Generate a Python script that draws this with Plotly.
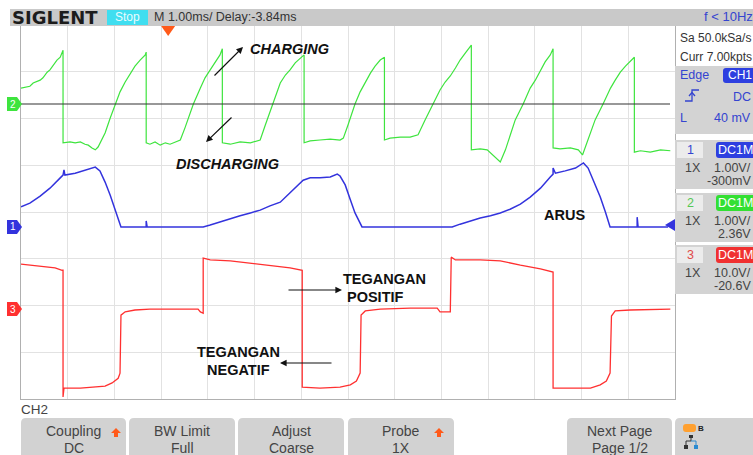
import plotly.graph_objects as go

W, H = 753, 455

# ---------------- data (time in ms, voltages in V) ----------------
time_range = [-3.15, 10.85]          # 1.00 ms/div, delay -3.84 ms
ch1_range = [-3.68, 4.32]            # 1.00 V/div
ch2_range = [-6.31, 1.69]            # 1.00 V/div
ch3_range = [-19.24, 60.76]          # 10.0 V/div

# CH2 (green) capacitor voltage
ch2_t = [-3.15, -3.06, -2.96, -2.89, -2.74, -2.68, -2.59, -2.53, -2.42, -2.38, -2.31, -2.27, -2.25,
         -2.25, -2.10, -1.99, -1.88, -1.78, -1.71, -1.63, -1.56, -1.50, -1.46, -1.35, -1.24, -1.13, -1.03, -0.92, -0.81, -0.71, -0.60, -0.49, -0.47,
         -0.47, -0.39, -0.28, -0.17, -0.06, 0.04, 0.15, 0.26, 0.36, 0.47, 0.54, 0.69, 0.79, 0.90, 1.01, 1.11, 1.16,
         1.16, 1.33, 1.54, 1.76, 1.97, 2.08, 2.18, 2.25, 2.40, 2.51, 2.61, 2.72, 2.83, 2.91,
         2.91, 3.04, 3.25, 3.47, 3.68, 3.75, 3.85, 4.00, 4.11, 4.22, 4.33, 4.43, 4.54, 4.63,
         4.63, 4.75, 4.97, 5.18, 5.35, 5.50, 5.67, 5.82, 5.93, 6.04, 6.15, 6.25, 6.36, 6.49,
         6.49, 6.68, 6.83, 6.94, 7.11, 7.22, 7.32, 7.43, 7.60, 7.75, 7.86, 7.97, 8.07, 8.18, 8.24,
         8.24, 8.39, 8.61, 8.78, 8.87, 8.95, 9.04, 9.14, 9.31, 9.47, 9.57, 9.68, 9.79, 9.89, 9.98,
         9.98, 10.11, 10.32, 10.54, 10.75]
ch2_v = [0.34, 0.36, 0.38, 0.45, 0.51, 0.56, 0.68, 0.73, 0.88, 0.94, 1.00, 1.11, 1.15,
         -0.83, -0.81, -0.83, -0.81, -0.86, -0.88, -0.94, -0.98, -0.92, -0.83, -0.62, -0.30, 0.00, 0.26, 0.47, 0.66, 0.81, 0.94, 1.05, 1.11,
         -0.83, -0.86, -0.81, -0.88, -0.83, -0.86, -0.81, -0.77, -0.51, -0.17, 0.00, 0.34, 0.56, 0.73, 0.90, 1.05, 1.18,
         -0.83, -0.86, -0.81, -0.83, -0.77, -0.45, -0.17, 0.00, 0.45, 0.62, 0.73, 0.88, 0.98, 1.05,
         -0.83, -0.79, -0.77, -0.75, -0.77, -0.73, -0.45, 0.00, 0.26, 0.47, 0.66, 0.81, 0.94, 1.00,
         -0.77, -0.73, -0.71, -0.71, -0.66, -0.34, 0.00, 0.30, 0.47, 0.60, 0.77, 0.94, 1.09, 1.26,
         -0.98, -0.96, -0.98, -1.09, -1.24, -0.98, -0.66, -0.34, 0.00, 0.34, 0.51, 0.73, 0.90, 1.05, 1.18,
         -0.94, -0.96, -0.94, -0.98, -1.09, -0.88, -0.62, -0.34, 0.00, 0.34, 0.51, 0.68, 0.81, 0.90, 1.00,
         -1.03, -1.00, -1.03, -0.98, -1.00]

# CH1 (blue) current
ch1_t = [-3.15, -2.96, -2.74, -2.53, -2.31, -2.25, -2.23, -2.21, -1.99, -1.78, -1.56, -1.46, -1.35, -1.24, -1.13, -1.01,
         -0.47, -0.47, -0.45, 0.75, 0.90, 1.11, 1.33, 1.54, 1.76, 1.97, 2.18, 2.40, 2.61, 2.83, 2.89, 3.04, 3.25, 3.47, 3.62, 3.68, 3.79, 3.90, 4.00, 4.15,
         6.08, 6.25, 6.47, 6.68, 6.90, 7.11, 7.32, 7.54, 7.75, 7.97, 8.18, 8.24, 8.24, 8.29, 8.50, 8.72, 8.89, 8.99, 9.10, 9.25, 9.36, 9.46,
         10.04, 10.04, 10.06, 10.70]
ch1_v = [0.43, 0.51, 0.66, 0.83, 1.05, 1.11, 1.22, 1.11, 1.15, 1.22, 1.28, 1.20, 0.96, 0.68, 0.36, 0.00,
         0.00, 0.13, 0.00, 0.00, 0.04, 0.11, 0.17, 0.24, 0.30, 0.36, 0.45, 0.53, 0.73, 0.94, 1.00, 1.05, 1.05, 1.07, 1.13, 1.09, 0.90, 0.58, 0.30, 0.00,
         0.00, 0.06, 0.13, 0.19, 0.24, 0.30, 0.38, 0.49, 0.64, 0.83, 1.07, 1.13, 1.26, 1.15, 1.20, 1.26, 1.37, 1.26, 1.00, 0.64, 0.32, 0.00,
         0.00, 0.21, 0.00, 0.00]

# CH3 (red) inverter output voltage
ch3_t = [-3.15, -2.74, -2.42, -2.27, -2.25, -2.25, -2.23, -1.88, -1.56, -1.35, -1.20, -1.07, -1.03, -1.01, -0.92, -0.71, -0.39, 0.04, 0.64, 0.69, 0.75,
         0.75, 0.90, 1.33, 1.76, 2.18, 2.61, 2.87, 2.87, 3.25, 3.68, 3.90, 4.03, 4.11, 4.13, 4.22, 4.54, 5.18, 5.76, 5.82, 6.04,
         6.06, 6.15, 6.68, 7.11, 7.54, 7.97, 8.24, 8.24, 8.61, 9.04, 9.25, 9.38, 9.46, 9.49, 9.57, 9.89, 10.75]
ch3_v = [9.6, 9.2, 8.8, 8.3, 8.3, -18.8, -16.9, -16.9, -16.7, -16.5, -15.8, -14.8, -13.7, -1.3, -0.6, -0.2, 0.0, 0.0, 0.0, -0.6, -0.9,
         10.9, 10.5, 10.3, 9.8, 9.4, 8.8, 8.3, -16.7, -16.9, -16.7, -16.2, -15.4, -13.7, -1.3, -0.4, 0.0, 0.2, 0.2, -0.6, -0.6,
         11.1, 10.5, 10.5, 10.3, 9.4, 8.6, 7.9, -16.9, -16.9, -16.9, -16.2, -15.4, -13.7, -1.5, -0.4, -0.2, 0.0]

trigger_level_ch1 = 0.04

# panel texts
ch_numbers = ["1", "2", "3"]
ch_scale_txt = ["1.00V/", "1.00V/", "10.0V/"]
ch_offset_txt = ["-300mV", "2.36V", "-20.6V"]
btn_top = ["Coupling", "BW Limit", "Adjust", "Probe", "Next Page"]
btn_bottom = ["DC", "Full", "Coarse", "1X", "Page 1/2"]

GREEN = "#3ee43e"
BLUE = "#3333dd"
RED = "#ff3030"
PANEL = "#d3d3d3"
TXT = "#3a3a3a"
UIBLUE = "#3444d0"
ORANGE = "#ff5a1a"
FONT = "Liberation Sans, Arial, sans-serif"

# ---------------- helpers ----------------
def X(p):
    return p / W


def Y(p):
    return 1 - p / H


shapes = []
anns = []


def rect(x0, y0, x1, y1, fill):
    shapes.append(dict(type="rect", xref="paper", yref="paper", x0=X(x0), x1=X(x1),
                       y0=Y(y1), y1=Y(y0), fillcolor=fill, line=dict(width=0)))


def rrect(x0, y0, x1, y1, r, fill):
    rx, ry = r / W, r / H
    a, b, c, d = X(x0), X(x1), Y(y1), Y(y0)
    path = (f"M {a+rx},{d} L {b-rx},{d} Q {b},{d} {b},{d-ry} L {b},{c+ry} Q {b},{c} {b-rx},{c} "
            f"L {a+rx},{c} Q {a},{c} {a},{c+ry} L {a},{d-ry} Q {a},{d} {a+rx},{d} Z")
    shapes.append(dict(type="path", xref="paper", yref="paper", path=path,
                       fillcolor=fill, line=dict(width=0)))


def pline(pts, color, width=1.2):
    path = "M " + " L ".join(f"{X(x)},{Y(y)}" for x, y in pts)
    shapes.append(dict(type="path", xref="paper", yref="paper", path=path,
                       line=dict(color=color, width=width)))


def text(x, y, s, size=12, color=TXT, anchor="left", family=FONT):
    anns.append(dict(xref="paper", yref="paper", x=X(x), y=Y(y), text=s, showarrow=False,
                     xanchor=anchor, yanchor="middle", borderpad=0,
                     font=dict(size=size, color=color, family=family)))


def arrow(hx, hy, tx, ty):
    anns.append(dict(xref="paper", yref="paper", x=X(hx), y=Y(hy), ax=tx - hx, ay=ty - hy,
                     axref="pixel", ayref="pixel", text="", showarrow=True, arrowhead=2,
                     arrowsize=1.1, arrowwidth=1.2, arrowcolor="#111", standoff=0))


def up_arrow(cx, cy):
    path = (f"M {X(cx-5)},{Y(cy)} L {X(cx)},{Y(cy-5)} L {X(cx+5)},{Y(cy)} L {X(cx+2)},{Y(cy)} "
            f"L {X(cx+2)},{Y(cy+4)} L {X(cx-2)},{Y(cy+4)} L {X(cx-2)},{Y(cy)} Z")
    shapes.append(dict(type="path", xref="paper", yref="paper", path=path,
                       fillcolor=ORANGE, line=dict(width=0)))


# ---------------- figure ----------------
fig = go.Figure()
fig.add_trace(go.Scatter(x=ch2_t, y=ch2_v, yaxis="y2", mode="lines",
                         line=dict(color=GREEN, width=1.2), hoverinfo="skip"))
fig.add_trace(go.Scatter(x=ch1_t, y=ch1_v, yaxis="y", mode="lines",
                         line=dict(color=BLUE, width=1.5), hoverinfo="skip"))
fig.add_trace(go.Scatter(x=ch3_t, y=ch3_v, yaxis="y3", mode="lines",
                         line=dict(color=RED, width=1.3), hoverinfo="skip"))

# reference line at CH2 ground
shapes.append(dict(type="line", xref="paper", x0=X(13), x1=X(670), yref="y2", y0=0, y1=0,
                   line=dict(color="#333333", width=1.2)))

# channel ground markers on the left
for ref, col, num in [("y", BLUE, "1"), ("y2", GREEN, "2"), ("y3", RED, "3")]:
    shapes.append(dict(type="path", xref="paper", xsizemode="pixel", xanchor=X(7),
                       yref=ref, ysizemode="pixel", yanchor=0,
                       path="M 0,-7 L 10,-7 L 15,0 L 10,7 L 0,7 Z",
                       fillcolor=col, line=dict(width=0)))
    anns.append(dict(xref="paper", yref=ref, x=X(13), y=0, text=num, showarrow=False,
                     xanchor="center", yanchor="middle", font=dict(size=10, color="white", family=FONT)))

# trigger level marker (CH1) on the right
shapes.append(dict(type="path", xref="paper", xsizemode="pixel", xanchor=X(675),
                   yref="y", ysizemode="pixel", yanchor=trigger_level_ch1,
                   path="M 0,-6 L 0,6 L -10,0 Z", fillcolor=BLUE, line=dict(width=0)))

# trigger position marker at t = 0
shapes.append(dict(type="path", xref="x", xsizemode="pixel", xanchor=0,
                   yref="paper", ysizemode="pixel", yanchor=Y(26),
                   path="M -7,0 L 7,0 L 0,-10 Z", fillcolor=ORANGE, line=dict(width=0)))

# header
rect(10, 9, 753, 26, "#c9c9c9")
text(11, 18, "<b>SIGLENT</b>", size=18, color="#1c1c1c", family="DejaVu Sans")
rect(107, 10, 148, 25, "#40def0")
text(127.5, 17.5, "Stop", size=12, color="#eafcff", anchor="center")
text(153, 17.5, "M 1.00ms/ Delay:-3.84ms", size=12.5, color="#333")
text(703, 17, "f &lt; 10Hz", size=13, color=UIBLUE)

# right panel
text(679, 38, "Sa 50.0kSa/s", size=12, color="#333")
text(679, 57, "Curr 7.00kpts", size=12, color="#333")
rect(675, 66, 753, 134, PANEL)
text(679, 75, "Edge", size=12.5, color=UIBLUE)
rrect(723, 68, 758, 83, 3, "#2d3fe0")
text(740, 75.5, "CH1", size=12, color="white", anchor="center")
pline([(685, 101), (692, 101), (692, 90), (699, 90)], UIBLUE, 1.3)
pline([(689, 96), (692, 92.5), (695, 96)], UIBLUE, 1.3)
text(752, 97, "DC", size=12.5, color=UIBLUE, anchor="right")
text(679, 118, "L", size=12.5, color=UIBLUE)
text(752, 118, "40 mV", size=12.5, color=UIBLUE, anchor="right")

ch_tops = [140, 193, 245]
ch_cols = ["#2d3fe0", "#33e033", "#f03030"]
num_cols = [UIBLUE, "#55c855", "#e04a4a"]
for top, col, ncol, num, sc, off in zip(ch_tops, ch_cols, num_cols, ch_numbers, ch_scale_txt, ch_offset_txt):
    rect(675, top, 753, top + 49, PANEL)
    rect(677, top + 2, 703, top + 18, "#ececec")
    text(690, top + 10, num, size=12.5, color=ncol, anchor="center")
    rrect(716, top + 2, 758, top + 18, 3, col)
    text(735, top + 10, "DC1M", size=12.5, color="white", anchor="center")
    text(684, top + 28, "1X", size=12.5, color="#444")
    text(752, top + 28, sc, size=12.5, color="#444", anchor="right")
    text(752, top + 41, off, size=12.5, color="#444", anchor="right")

# bottom menu
text(20, 409, "CH2", size=13.5, color="#444")
btn_x = [(21, 126), (129, 235), (238, 344), (348, 454), (567, 672)]
for (x0, x1), t1, t2 in zip(btn_x, btn_top, btn_bottom):
    rrect(x0, 418, x1, 470, 5, "#d2d2d2")
    text((x0 + x1) / 2, 431, t1, size=14, color="#444", anchor="center")
    text((x0 + x1) / 2, 448, t2, size=14, color="#444", anchor="center")
up_arrow(116, 433)
up_arrow(439, 433)
rrect(675, 418, 760, 470, 5, "#d2d2d2")
rrect(683, 424, 696, 432, 3, "#ffa030")
text(697, 428, "<b>B</b>", size=8, color="#222")
pline([(691, 437), (691, 441), (686, 441), (686, 445)], "#333", 1)
pline([(691, 441), (696, 441), (696, 445)], "#2a8ad0", 1)
rect(684, 445, 688, 449, "#333")
rect(694, 445, 698, 449, "#2a8ad0")
rect(689, 435, 693, 438, "#333")

# waveform annotations
text(289, 49, "<b><i>CHARGING</i></b>", size=14.5, color="#111", anchor="center")
arrow(243, 47, 213, 77)
text(227, 164, "<b><i>DISCHARGING</i></b>", size=14.5, color="#111", anchor="center")
arrow(206, 142, 233, 116)
text(564, 215, "<b>ARUS</b>", size=14.5, color="#111", anchor="center")
text(384, 279, "<b>TEGANGAN</b>", size=14.5, color="#111", anchor="center")
text(375, 297, "<b>POSITIF</b>", size=14.5, color="#111", anchor="center")
arrow(342, 290, 287, 290)
text(238, 352, "<b>TEGANGAN</b>", size=14.5, color="#111", anchor="center")
text(238, 370, "<b>NEGATIF</b>", size=14.5, color="#111", anchor="center")
arrow(280, 363, 333, 363)

axis_common = dict(showticklabels=False, ticks="", zeroline=False, showline=True,
                   linecolor="#b0b0b0", linewidth=1, mirror=True, fixedrange=True)

fig.update_layout(
    width=W, height=H, margin=dict(l=0, r=0, t=0, b=0),
    paper_bgcolor="white", plot_bgcolor="white", showlegend=False,
    xaxis=dict(domain=[X(21), X(675)], range=time_range, tick0=time_range[0], dtick=1,
               showgrid=True, gridcolor="#e2e2e2", **axis_common),
    yaxis=dict(domain=[Y(399), Y(25)], range=ch1_range, tick0=ch1_range[0], dtick=1,
               showgrid=True, gridcolor="#e2e2e2", **axis_common),
    yaxis2=dict(overlaying="y", range=ch2_range, visible=False, fixedrange=True),
    yaxis3=dict(overlaying="y", range=ch3_range, visible=False, fixedrange=True),
    shapes=shapes, annotations=anns,
)

fig.write_html("out.html", config={"displayModeBar": False},
               post_script="document.body.style.margin='0';document.body.style.overflow='hidden';")
